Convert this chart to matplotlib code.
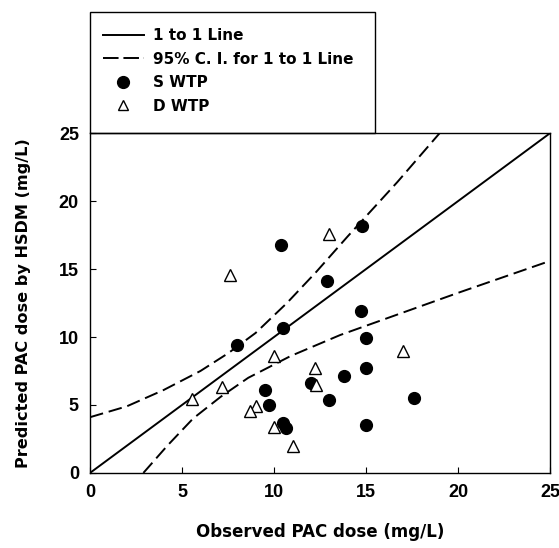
import matplotlib
matplotlib.use("Agg")
import matplotlib.pyplot as plt
from matplotlib.lines import Line2D
from matplotlib.patches import Rectangle

plt.rcParams['font.family'] = ['DejaVu Sans']
plt.rcParams['font.weight'] = 'bold'

# S WTP (filled circles)
s_obs = [10.4, 14.8, 12.9, 8.0, 10.5, 14.7, 15.0, 15.0, 13.8, 12.0, 9.5, 13.0, 9.7, 10.5, 10.65, 15.0, 17.6]
s_pred = [16.8, 18.2, 14.1, 9.4, 10.7, 11.9, 9.9, 7.7, 7.1, 6.6, 6.1, 5.4, 5.0, 3.7, 3.3, 3.5, 5.5]

# D WTP (open triangles)
d_obs = [7.6, 13.0, 5.55, 7.2, 10.0, 17.0, 12.2, 12.3, 9.0, 8.7, 10.0, 11.05]
d_pred = [14.6, 17.6, 5.45, 6.3, 8.6, 9.0, 7.75, 6.5, 4.9, 4.55, 3.4, 2.0]

# 1 to 1 line
one_x = [0, 25]
one_y = [0, 25]

# 95% C.I. curves
ci_up_x = [0, 2, 4, 6, 7.5, 9, 10.7, 12.3, 14, 16.7, 19.0]
ci_up_y = [4.1, 4.9, 6.1, 7.5, 8.8, 10.3, 12.5, 14.8, 17.4, 21.4, 25.0]
ci_lo_x = [2.9, 4.2, 5.6, 7.1, 8.6, 10.9, 13.6, 16.8, 20, 25]
ci_lo_y = [0, 2.0, 4.0, 5.6, 7.0, 8.6, 10.15, 11.7, 13.25, 15.6]

ticks = [0, 5, 10, 15, 20, 25]

fig = plt.figure(figsize=(5.59, 5.48), dpi=100)
ax = fig.add_axes([0.161, 0.137, 0.823, 0.62])

dash = (0, (7, 3))
ax.plot(one_x, one_y, color='black', lw=1.4)
ax.plot(ci_up_x, ci_up_y, color='black', lw=1.4, linestyle=dash)
ax.plot(ci_lo_x, ci_lo_y, color='black', lw=1.4, linestyle=dash)
ax.plot(s_obs, s_pred, 'o', color='black', ms=8.5, linestyle='none')
ax.plot(d_obs, d_pred, '^', mfc='white', mec='black', mew=1, ms=8, linestyle='none')

ax.set_xlim(0, 25)
ax.set_ylim(0, 25)
ax.set_xticks(ticks)
ax.set_yticks(ticks)
ax.tick_params(direction='in', length=4, pad=8)
for lab in ax.get_xticklabels() + ax.get_yticklabels():
    lab.set_fontweight('bold')
    lab.set_fontfamily('Liberation Sans')
    lab.set_fontsize(13)
for s in ax.spines.values():
    s.set_linewidth(1.0)

ax.set_xlabel('Observed PAC dose (mg/L)', fontsize=12, fontweight='bold', labelpad=16)
ax.set_ylabel('Predicted PAC dose by HSDM (mg/L)', fontsize=11.6, fontweight='bold', labelpad=20)

# legend box sits on top of the axes
fig.add_artist(Rectangle((0.161, 0.757), 0.51, 0.221, transform=fig.transFigure,
                         fill=False, edgecolor='black', lw=1.0))

handles = [
    Line2D([], [], color='black', lw=1.4),
    Line2D([], [], color='black', lw=1.4, linestyle=(0, (8, 2.5))),
    Line2D([], [], marker='o', color='black', ms=8.5, linestyle='none'),
    Line2D([], [], marker='^', mfc='white', mec='black', ms=7, linestyle='none'),
]
labels = ['1 to 1 Line', '95% C. I. for 1 to 1 Line', 'S WTP', 'D WTP']
leg = fig.legend(handles, labels, loc='upper left', bbox_to_anchor=(0.184, 0.949),
                 frameon=False, fontsize=11, handlelength=2.7, handletextpad=0.6,
                 labelspacing=0.56, borderaxespad=0, borderpad=0)
for t in leg.get_texts():
    t.set_fontweight('bold')

fig.savefig('out.png', dpi=100)
